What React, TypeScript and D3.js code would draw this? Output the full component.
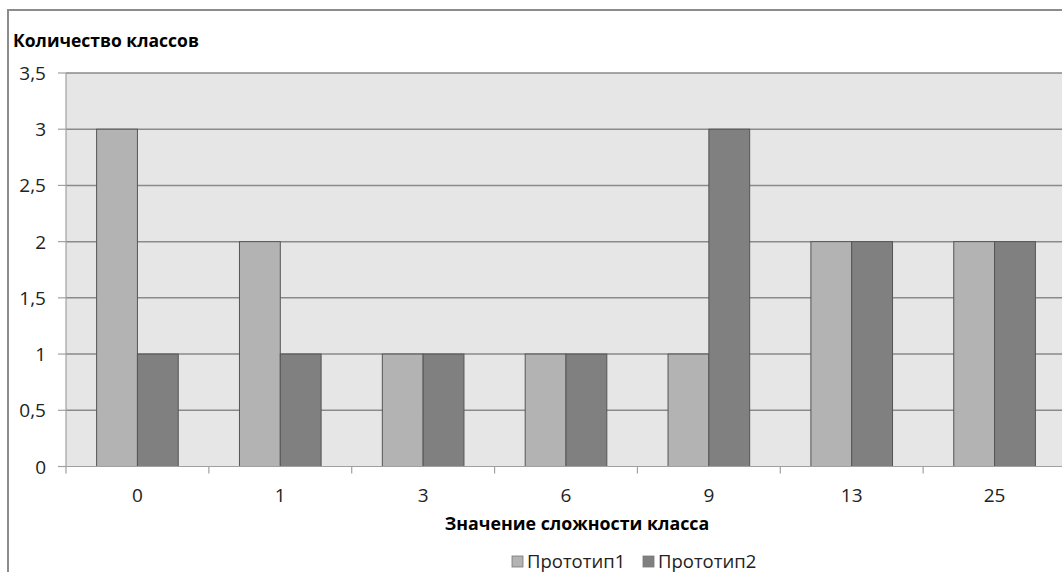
import React from 'react';
import * as d3 from 'd3';

const categories = ['0', '1', '3', '6', '9', '13', '25'];
const seriesNames = ['Прототип1', 'Прототип2'];
const proto1 = [3, 2, 1, 1, 1, 2, 2];
const proto2 = [1, 1, 1, 1, 3, 2, 2];
const yTicks = [0, 0.5, 1, 1.5, 2, 2.5, 3, 3.5];

const colors = ['#b3b3b3', '#808080'];
const font = "'Open Sans', 'Noto Sans', sans-serif";

const W = 1062;
const H = 572;
const plot = { left: 66, top: 73, right: 1066, bottom: 466.5 };

export default function App() {
  const x0 = d3.scaleBand<string>()
    .domain(categories)
    .range([plot.left, plot.right])
    .paddingInner(0)
    .paddingOuter(0);
  const x1 = d3.scaleBand<string>()
    .domain(seriesNames)
    .range([0, x0.bandwidth()])
    .paddingInner(0)
    .paddingOuter(0.75);
  const y = d3.scaleLinear().domain([0, 3.5]).range([plot.bottom, plot.top]);

  const series = [proto1, proto2];
  const fmt = (v: number) => String(v).replace('.', ',');

  return (
    <svg width={W} height={H} style={{ display: 'block', position: 'absolute', left: 0, top: 0, background: '#fff' }}>
      {/* chart frame */}
      <rect x={8} y={10} width={W + 20} height={H + 20} fill="#fff" stroke="#8c8c8c" strokeWidth={2} />

      <text x={13} y={47} fontFamily={font} fontSize={17.5} fontWeight="bold" fill="#000">Количество классов</text>

      <rect x={plot.left} y={plot.top} width={plot.right - plot.left} height={plot.bottom - plot.top} fill="#e6e6e6" />

      {yTicks.filter(t => t > 0).map(t => (
        <line key={'g' + t} x1={plot.left} x2={plot.right} y1={y(t)} y2={y(t)} stroke="#8a8a8a" strokeWidth={1.5} />
      ))}

      {categories.map((c, i) =>
        series.map((s, j) => (
          <rect
            key={c + j}
            x={(x0(c) ?? 0) + (x1(seriesNames[j]) ?? 0)}
            y={y(s[i])}
            width={x1.bandwidth()}
            height={y(0) - y(s[i])}
            fill={colors[j]}
            stroke="#555"
            strokeWidth={1}
          />
        ))
      )}

      {/* axes */}
      <line x1={plot.left} x2={plot.left} y1={plot.top} y2={plot.bottom} stroke="#a0a0a0" strokeWidth={1.2} />
      <line x1={58} x2={plot.right} y1={plot.bottom} y2={plot.bottom} stroke="#a0a0a0" strokeWidth={1.2} />
      {yTicks.map(t => (
        <g key={'y' + t}>
          <line x1={58} x2={plot.left} y1={y(t)} y2={y(t)} stroke="#a0a0a0" strokeWidth={1.2} />
          <text x={46} y={y(t) + 7} textAnchor="end" fontFamily={font} fontSize={19} fill="#222">{fmt(t)}</text>
        </g>
      ))}
      {categories.map((c, i) => (
        <g key={'x' + c}>
          <line x1={x0(c) ?? 0} x2={x0(c) ?? 0} y1={plot.bottom} y2={plot.bottom + 7} stroke="#a0a0a0" strokeWidth={1.2} />
          <text x={(x0(c) ?? 0) + x0.bandwidth() / 2} y={501.5} textAnchor="middle" fontFamily={font} fontSize={19} fill="#222">{c}</text>
        </g>
      ))}

      <text x={577} y={530} textAnchor="middle" fontFamily={font} fontSize={17.8} fontWeight="bold" fill="#000">Значение сложности класса</text>

      {/* legend */}
      {seriesNames.map((n, j) => {
        const lx = 512 + j * 131;
        return (
          <g key={n}>
            <rect x={lx} y={556} width={11} height={11} fill={colors[j]} stroke="#777" strokeWidth={0.8} />
            <text x={lx + 15} y={568} fontFamily={font} fontSize={18.5} fill="#222">{n}</text>
          </g>
        );
      })}
    </svg>
  );
}
